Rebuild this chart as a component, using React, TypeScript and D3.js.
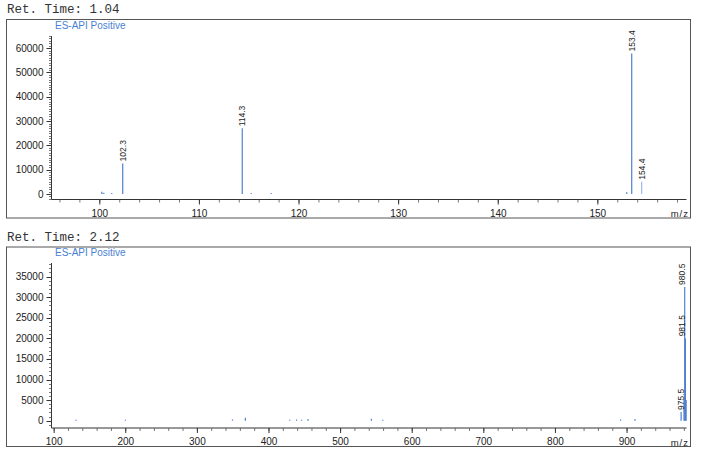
import React from "react";
import * as d3 from "d3";

// Panel 1 (Ret. Time 1.04)
const topTitle = "Ret. Time: 1.04";
const topMz = [100.2, 100.4, 101.2, 102.3, 114.3, 115.2, 117.2, 152.9, 153.4, 154.4];
const topIntensity = [900, 500, 300, 12600, 27000, 200, 200, 700, 57800, 5000];
const topLabeled = [102.3, 114.3, 153.4, 154.4];
const topMinor = [154.4];
const topYTicks = [0, 10000, 20000, 30000, 40000, 50000, 60000];
const topXTicks = [100, 110, 120, 130, 140, 150];

// Panel 2 (Ret. Time 2.12)
const botTitle = "Ret. Time: 2.12";
const botMz = [130.5, 199.5, 349, 367, 429, 438.5, 445.6, 454.5, 543, 559, 891, 911, 975.5, 979.5, 980.5, 981.5, 982.5];
const botIntensity = [200, 200, 300, 700, 200, 300, 200, 400, 500, 200, 300, 400, 2100, 5000, 32500, 20000, 5000];
const botLabeled = [975.5, 980.5, 981.5];
const botMinor: number[] = [];
const botYTicks = [0, 5000, 10000, 15000, 20000, 25000, 30000, 35000];
const botXTicks = [100, 200, 300, 400, 500, 600, 700, 800, 900];

const modeLabel = "ES-API Positive";
const BLUE = "#4f80cf";
const LIGHT = "#9db8e3";
const SANS = "'Liberation Sans', Arial, sans-serif";

type PanelProps = {
  title: string;
  top: number; // frame top
  bottom: number; // frame bottom
  xDomain: [number, number];
  yDomain: [number, number];
  yTop: number;
  yBottom: number;
  mz: number[];
  intensity: number[];
  labeled: number[];
  minor: number[];
  yTicks: number[];
  yMinorStep: number;
  xTicks: number[];
  xMinorStep: number;
};

function Panel(p: PanelProps) {
  const x = d3.scaleLinear().domain(p.xDomain).range([52, 686.5]);
  const y = d3.scaleLinear().domain(p.yDomain).range([p.yBottom, p.yTop]);
  const axisY = p.yBottom;
  const axisX = 51.5;
  const yMinor = d3.range(Math.ceil(p.yDomain[0] / p.yMinorStep) * p.yMinorStep, p.yDomain[1] + 1, p.yMinorStep);
  const xMinor = d3.range(Math.ceil(p.xDomain[0] / p.xMinorStep) * p.xMinorStep, p.xDomain[1] + 0.001, p.xMinorStep);
  const labelMax = x.range()[1] - 5;
  return (
    <g>
      <text x={7} y={p.top - 6} fontFamily="'Liberation Mono', 'Courier New', monospace" fontSize={12.5} fill="#333">
        {p.title}
      </text>
      <rect x={6.5} y={p.top + 0.5} width={684} height={p.bottom - p.top} fill="none" stroke="#555" strokeWidth={1} />
      <text x={55} y={p.top + 9.5} fontFamily={SANS} fontSize={10} fill="#4a7fd4">
        {modeLabel}
      </text>
      {/* y axis */}
      <line x1={axisX} x2={axisX} y1={p.yTop} y2={axisY} stroke="#333" />
      {yMinor.map((v) => (
        <line key={"ym" + v} x1={axisX - 2.5} x2={axisX} y1={Math.round(y(v)) + 0.5} y2={Math.round(y(v)) + 0.5} stroke="#555" strokeWidth={0.8} />
      ))}
      {p.yTicks.map((v) => (
        <g key={"y" + v}>
          <line x1={axisX - 5} x2={axisX} y1={Math.round(y(v)) + 0.5} y2={Math.round(y(v)) + 0.5} stroke="#333" />
          <text x={43.5} y={y(v)} dy="0.35em" textAnchor="end" fontFamily={SANS} fontSize={10} fill="#222">
            {v}
          </text>
        </g>
      ))}
      {/* x axis */}
      <line x1={axisX} x2={x.range()[1]} y1={axisY} y2={axisY} stroke="#333" />
      {xMinor.map((v) => (
        <line key={"xm" + v} x1={x(v)} x2={x(v)} y1={axisY} y2={axisY + 3} stroke="#555" strokeWidth={0.8} />
      ))}
      {p.xTicks.map((v) => (
        <g key={"x" + v}>
          <line x1={x(v)} x2={x(v)} y1={axisY} y2={axisY + 5} stroke="#333" />
          <text x={x(v)} y={p.bottom - 1} textAnchor="middle" fontFamily={SANS} fontSize={10} fill="#222">
            {v}
          </text>
        </g>
      ))}
      <text x={689} y={p.bottom - 0.5} textAnchor="end" fontFamily={SANS} fontSize={9.5} letterSpacing={1} fill="#222">
        m/z
      </text>
      {/* peaks */}
      {p.mz.map((m, i) => (
        <line
          key={"p" + i}
          x1={x(m)}
          x2={x(m)}
          y1={y(0)}
          y2={Math.min(y(p.intensity[i]), y(0) - 1)}
          stroke={p.minor.includes(m) ? LIGHT : BLUE}
          strokeWidth={1.2}
        />
      ))}
      {p.mz.map((m, i) =>
        p.labeled.includes(m) ? (
          <text
            key={"l" + i}
            transform={`translate(${Math.min(x(m), labelMax) + 3},${y(p.intensity[i]) - 2}) rotate(-90)`}
            fontFamily={SANS}
            fontSize={8.5}
            fill="#222"
          >
            {m.toFixed(1)}
          </text>
        ) : null
      )}
    </g>
  );
}

export default function App() {
  return (
    <svg width={703} height={458} style={{ position: "absolute", left: 0, top: 0, background: "#fff" }}>
      <rect width={703} height={458} fill="#fff" />
      <Panel
        title={topTitle}
        top={19}
        bottom={217.5}
        xDomain={[95.2, 158.9]}
        yDomain={[-2260, 65000]}
        yTop={36}
        yBottom={199.5}
        mz={topMz}
        intensity={topIntensity}
        labeled={topLabeled}
        minor={topMinor}
        yTicks={topYTicks}
        yMinorStep={1000}
        xTicks={topXTicks}
        xMinorStep={2}
      />
      <Panel
        title={botTitle}
        top={246.5}
        bottom={446}
        xDomain={[97, 983]}
        yDomain={[-1770, 38300]}
        yTop={263}
        yBottom={428}
        mz={botMz}
        intensity={botIntensity}
        labeled={botLabeled}
        minor={botMinor}
        yTicks={botYTicks}
        yMinorStep={1000}
        xTicks={botXTicks}
        xMinorStep={20}
      />
    </svg>
  );
}
